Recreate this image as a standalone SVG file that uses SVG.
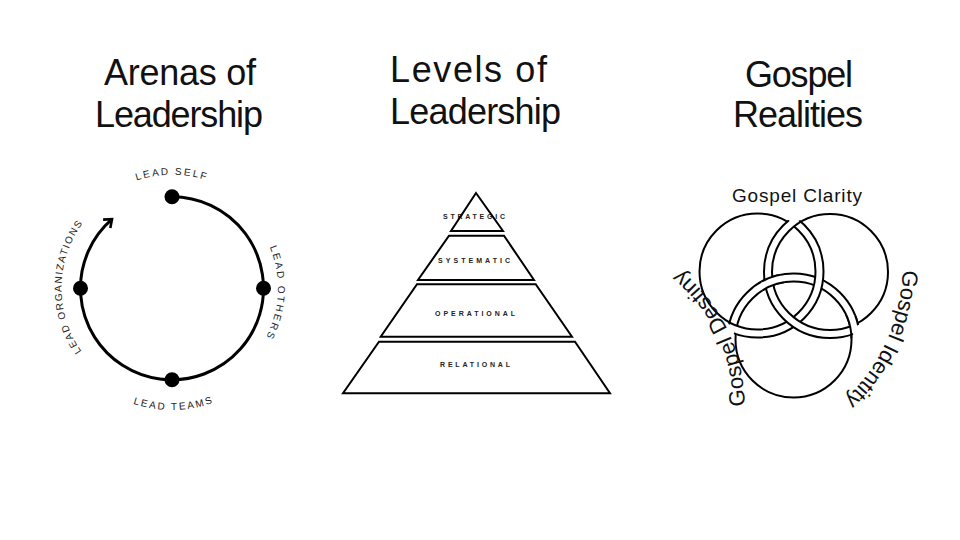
<svg xmlns="http://www.w3.org/2000/svg" width="960" height="540" viewBox="0 0 960 540">
<style>
.title{font-family:"Liberation Sans",Arial,sans-serif;font-size:36px;fill:#111}
.arena{font-family:"Liberation Sans",Arial,sans-serif;font-size:10px;fill:#222}
.lvl{font-family:"Liberation Sans",Arial,sans-serif;font-size:7px;font-weight:bold;fill:#222}
.gos{font-family:"Liberation Sans",Arial,sans-serif;fill:#111}
.ring{fill:none;stroke:#000;stroke-width:3}
.dot{fill:#000}
.tier{fill:#fff;stroke:#000;stroke-width:2;stroke-linejoin:miter}
.vline{fill:none;stroke:#000;stroke-width:2}
.vband{fill:none;stroke:#fff;stroke-width:8}
</style>
<defs>
<marker id="chev" markerUnits="userSpaceOnUse" markerWidth="14" markerHeight="14" viewBox="0 0 14 14" refX="10" refY="7" orient="auto">
<path d="M3,1.5 L10,7 L3,12.5" fill="none" stroke="#000" stroke-width="2.6"/>
</marker>
<path id="pTop" d="M58.5,288.3 A113.5,113.5 0 0 1 285.5,288.3"/>
<path id="pRight" d="M172,182.3 A106,106 0 0 1 172,394.3"/>
<path id="pBottom" d="M50.3,288.3 A121.7,121.7 0 0 0 293.7,288.3"/>
<path id="pLeft" d="M172,398.8 A110.5,110.5 0 0 1 172,177.8"/>
<path id="pDest" d="M745,410 Q744,320 676,266"/>
<path id="pIdent" d="M903,266 Q900,350 840,404"/>
<clipPath id="cL"><circle cx="830" cy="272" r="60"/><circle cx="793.5" cy="339.5" r="60"/></clipPath>
<clipPath id="cR"><circle cx="757.5" cy="271.5" r="60"/><circle cx="793.5" cy="339.5" r="60"/></clipPath>
<clipPath id="cB"><circle cx="757.5" cy="271.5" r="60"/><circle cx="830" cy="272" r="60"/></clipPath>
<clipPath id="cFix"><circle cx="850" cy="326.5" r="12"/><circle cx="773" cy="285" r="12"/></clipPath>
<g id="ringB">
<circle class="vband" cx="793.5" cy="339.5" r="62" clip-path="url(#cB)"/>
<circle class="vline" cx="793.5" cy="339.5" r="58"/>
<circle class="vline" cx="793.5" cy="339.5" r="66" clip-path="url(#cB)"/>
</g>
</defs>
<rect width="960" height="540" fill="#fff"/>

<g id="titles">
<text class="title" x="104" y="85" textLength="152">Arenas of</text>
<text class="title" x="95" y="127" textLength="168">Leadership</text>
<text class="title" x="390" y="82" textLength="157">Levels of</text>
<text class="title" x="390" y="123.5" textLength="171">Leadership</text>
<text class="title" x="745" y="87" textLength="108">Gospel</text>
<text class="title" x="733" y="127" textLength="130">Realities</text>
</g>

<g id="arenas">
<g id="connectors">
<path class="ring" d="M172,196.8 A91.5,91.5 0 1 1 112,219.2" marker-end="url(#chev)"/>
</g>
<g id="lead-self"><circle class="dot" cx="172" cy="196.8" r="7.5"/><text class="arena" letter-spacing="2"><textPath href="#pTop" startOffset="50%" text-anchor="middle">LEAD SELF</textPath></text></g>
<g id="lead-others"><circle class="dot" cx="263.5" cy="288.3" r="7.5"/><text class="arena" letter-spacing="2.2"><textPath href="#pRight" startOffset="51.5%" text-anchor="middle">LEAD OTHERS</textPath></text></g>
<g id="lead-teams"><circle class="dot" cx="172" cy="379.8" r="7.5"/><text class="arena" letter-spacing="2"><textPath href="#pBottom" startOffset="50.5%" text-anchor="middle">LEAD TEAMS</textPath></text></g>
<g id="lead-organizations"><circle class="dot" cx="80.5" cy="288.3" r="7.5"/><text class="arena" letter-spacing="1.5"><textPath href="#pLeft" startOffset="50.5%" text-anchor="middle">LEAD ORGANIZATIONS</textPath></text></g>
</g>

<g id="levels">
<g id="relational"><polygon class="tier" points="379,341.7 575,341.7 610,393.3 343,393.3"/><text class="lvl" x="440" y="366.7" textLength="70">RELATIONAL</text></g>
<g id="operational"><polygon class="tier" points="417,284.3 535.7,284.3 572,336.7 380.7,336.7"/><text class="lvl" x="435" y="315.7" textLength="80">OPERATIONAL</text></g>
<g id="systematic"><polygon class="tier" points="449,235.7 504,235.7 534,280 418,280"/><text class="lvl" x="438" y="263.3" textLength="72">SYSTEMATIC</text></g>
<g id="strategic"><text class="lvl" x="443" y="219.3" textLength="62">STRATEGIC</text><polygon points="476,193 503,231 451,231" fill="none" stroke="#000" stroke-width="2"/></g>
</g>

<g id="gospel">
<g id="ring-bottom"><use href="#ringB"/></g>
<g id="ring-left">
<circle class="vband" cx="757.5" cy="271.5" r="62" clip-path="url(#cL)"/>
<circle class="vline" cx="757.5" cy="271.5" r="58"/>
<circle class="vline" cx="757.5" cy="271.5" r="66" clip-path="url(#cL)"/>
</g>
<g id="ring-right">
<circle class="vband" cx="830" cy="272" r="62" clip-path="url(#cR)"/>
<circle class="vline" cx="830" cy="272" r="58"/>
<circle class="vline" cx="830" cy="272" r="66" clip-path="url(#cR)"/>
</g>
<g id="ring-bottom-over" clip-path="url(#cFix)"><use href="#ringB"/></g>
<g id="gospel-clarity"><text class="gos" x="732" y="202" font-size="19" textLength="130">Gospel Clarity</text></g>
<g id="gospel-destiny"><text class="gos" font-size="22"><textPath href="#pDest" startOffset="4" textLength="156">Gospel Destiny</textPath></text></g>
<g id="gospel-identity"><text class="gos" font-size="22"><textPath href="#pIdent" startOffset="4" textLength="146">Gospel Identity</textPath></text></g>
</g>
</svg>
